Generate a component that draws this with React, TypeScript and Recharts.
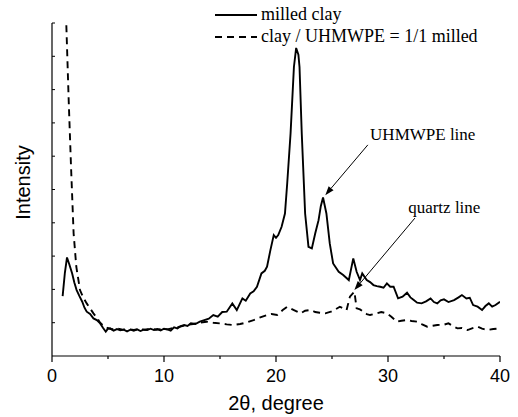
import React from 'react';
import {
  LineChart,
  Line,
  XAxis,
  YAxis,
  Label,
  ReferenceLine,
  ReferenceDot,
} from 'recharts';

// Data (intensity in arbitrary units, 0..100)
const milledClayAngle = [
  0.95, 1.15, 1.34, 1.55, 1.8, 2.0, 2.2, 2.45, 2.7, 2.9, 3.1, 3.4, 3.7, 4.0, 4.3, 4.55, 4.8, 5.0, 5.2,
  5.5, 5.8, 6.1, 6.4, 6.7, 7.0, 7.3, 7.6, 7.9, 8.2, 8.5, 8.8, 9.1, 9.4, 9.7, 10.0, 10.3, 10.6, 10.9,
  11.2, 11.5, 11.8, 12.1, 12.4, 12.8, 13.2, 13.6, 14.0, 14.4, 14.8, 15.2, 15.6, 16.1, 16.5, 17.0,
  17.3, 17.7, 18.0, 18.3, 18.7, 19.0, 19.2, 19.5, 19.8, 20.0, 20.2, 20.5, 20.8, 21.0, 21.3, 21.6,
  21.8, 22.0, 22.1, 22.3, 22.6, 22.9, 23.2, 23.5, 23.8, 24.0, 24.2, 24.5, 24.8, 25.1, 25.6, 26.0,
  26.5, 26.9, 27.2, 27.5, 27.7, 28.1, 28.4, 28.7, 29.0, 29.3, 29.6, 29.9, 30.2, 30.5, 30.9, 31.3,
  31.7, 32.0, 32.3, 32.6, 33.0, 33.4, 33.8, 34.1, 34.4, 34.7, 35.0, 35.4, 35.9, 36.3, 36.6, 37.0,
  37.3, 37.6, 38.0, 38.4, 38.7, 39.0, 39.3, 39.6, 40.0,
];
const milledClayIntensity = [
  18, 25, 29.6, 27.5, 24.8, 22.0, 19.8, 18.0, 16.3, 14.5, 13.3, 12.6, 11.3, 10.8, 9.8, 8.5, 7.3, 8.2,
  8.3, 7.6, 8.1, 7.7, 7.9, 7.4, 7.9, 7.6, 8.0, 7.5, 7.9, 7.8, 8.2, 7.8, 8.1, 7.7, 8.2, 8.0, 7.6, 8.6,
  8.3, 9.0, 9.3, 9.0, 9.8, 9.6, 10.3, 10.8, 11.2, 12.3, 11.8, 13.2, 13.3, 15.8, 13.8, 17.3, 16.6,
  18.8, 19.4, 20.8, 24.8, 25.6, 26.8, 31.8, 36.3, 35.5, 36.3, 38.8, 42.8, 51.8, 66.8, 86.8, 92.5,
  90.5, 86.8, 66.8, 42.8, 32.8, 32.3, 36.8, 40.8, 45, 47.6, 42.8, 33.8, 27.8, 25.3, 24.3, 22.8, 29.3,
  25.3, 22.8, 24.8, 22.8, 22.2, 21.3, 21.0, 20.8, 20.5, 21.8, 20.8, 20.8, 17.3, 17.8, 19.0, 17.6,
  16.8, 16.0, 15.8, 16.4, 17.3, 16.2, 15.8, 16.7, 17.0, 16.2, 16.8, 17.6, 18.3, 17.3, 17.5, 15.3,
  14.8, 13.8, 15.0, 15.8, 14.8, 15.3, 16.3,
];

const blendAngle = [
  1.28, 1.49, 1.7, 1.93, 2.17, 2.5, 2.8, 3.1, 3.4, 3.7, 4.0, 4.3, 4.6, 4.9, 5.3, 5.8, 6.3, 6.8, 7.3,
  7.8, 8.3, 8.8, 9.3, 9.8, 10.3, 10.8, 11.3, 12.0, 12.6, 13.2, 13.8, 14.4, 15.0, 15.6, 16.2, 16.8,
  17.4, 18.0, 18.6, 19.2, 19.6, 20.1, 20.6, 21.0, 21.3, 21.6, 22.2, 22.6, 23.1, 23.5, 23.9, 24.4,
  24.9, 25.3, 25.7, 26.0, 26.3, 26.6, 27.0, 27.2, 27.5, 27.8, 28.1, 28.4, 29.0, 29.4, 29.9, 30.3,
  30.8, 31.2, 31.7, 32.1, 32.6, 33.0, 33.5, 34.0, 34.4, 35.0, 35.4, 35.8, 36.2, 36.6, 37.1, 37.5,
  38.0, 38.4, 38.8, 39.4, 40.0,
];
const blendIntensity = [
  99.3, 76.8, 56.8, 36.8, 26.8, 19.8, 17.5, 15.8, 14.3, 12.8, 11.5, 10.0, 9.0, 8.5, 8.0, 8.3, 7.9,
  8.1, 7.8, 8.1, 7.9, 8.2, 7.9, 8.1, 8.0, 8.4, 8.7, 9.3, 9.6, 10.0, 10.3, 10.0, 9.8, 9.5, 9.3, 9.6,
  10.1, 10.8, 11.6, 12.3, 12.6, 12.3, 13.8, 14.8, 14.3, 13.8, 12.8, 13.6, 13.8, 13.2, 13.0, 12.8,
  13.3, 14.0, 14.8, 14.3, 13.8, 17.8, 19.3, 14.3, 14.0, 13.3, 12.6, 12.3, 12.8, 13.2, 12.8, 11.8,
  10.3, 10.6, 10.8, 10.5, 10.3, 9.6, 8.8, 9.1, 9.3, 9.4, 9.8, 9.0, 8.3, 8.4, 7.8, 8.3, 8.8, 8.2, 7.8,
  8.1, 8.3,
];

const xTicks = [0, 5, 10, 15, 20, 25, 30, 35, 40];
const yTicks = [0, 10, 20, 30, 40, 50, 60, 70, 80, 90, 100];

const legendItems = [
  { label: 'milled clay', dash: undefined },
  { label: 'clay / UHMWPE = 1/1 milled', dash: '7 5' },
];

// annotation: text anchor point, arrow start, arrow tip (data coordinates)
const annotations = [
  { text: 'UHMWPE line', at: { x: 28.4, y: 65 }, from: { x: 28.2, y: 63.4 }, to: { x: 24.4, y: 48.3 } },
  { text: 'quartz line', at: { x: 31.8, y: 43 }, from: { x: 32.4, y: 41.4 }, to: { x: 27.0, y: 19.8 } },
];

const milledClay = milledClayAngle.map((x, i) => ({ x, y: milledClayIntensity[i] }));
const blend = blendAngle.map((x, i) => ({ x, y: blendIntensity[i] }));

const sans = '"Liberation Sans", Arial, sans-serif';
const serif = '"Liberation Serif", "Times New Roman", serif';

const XTick = (props: any) => {
  const { x, y, payload } = props;
  const major = payload.value % 10 === 0;
  return (
    <g>
      <line x1={x} y1={y} x2={x} y2={y + (major ? 6 : 3)} stroke="#000" strokeWidth={1.2} />
      {major && (
        <text x={x} y={y + 26} textAnchor="middle" fontFamily={sans} fontSize={18} fill="#000">
          {payload.value}
        </text>
      )}
    </g>
  );
};

const YTick = (props: any) => {
  const { x, y, payload } = props;
  if (payload.value === 0) return <g />;
  return <line x1={x} y1={y} x2={x + 3} y2={y} stroke="#000" strokeWidth={1} />;
};

const Arrow = (props: any) => {
  const { x1, y1, x2, y2 } = props;
  const a = Math.atan2(y2 - y1, x2 - x1);
  const len = 9;
  const w = 3.2;
  const bx = x2 - len * Math.cos(a);
  const by = y2 - len * Math.sin(a);
  const px = -Math.sin(a) * w;
  const py = Math.cos(a) * w;
  return (
    <g>
      <line x1={x1} y1={y1} x2={bx} y2={by} stroke="#000" strokeWidth={1} />
      <polygon points={`${x2},${y2} ${bx + px},${by + py} ${bx - px},${by - py}`} fill="#000" />
    </g>
  );
};

export default function App() {
  return (
    <div style={{ position: 'absolute', left: 0, top: 0, width: 518, height: 417, background: '#fff' }}>
      <LineChart width={518} height={417} margin={{ top: 23, right: 18, left: 0, bottom: 0 }}>
        <XAxis
          type="number"
          dataKey="x"
          domain={[0, 40]}
          ticks={xTicks}
          height={61}
          tickSize={0}
          tickMargin={0}
          tick={<XTick />}
          axisLine={{ stroke: '#000', strokeWidth: 1.2 }}
          allowDataOverflow
        >
          <Label
            content={(p: any) => {
              const vb = p.viewBox;
              return (
                <text x={vb.x + vb.width / 2} y={vb.y + 54} textAnchor="middle" fontFamily={sans} fontSize={20} fill="#000">
                  2θ, degree
                </text>
              );
            }}
          />
        </XAxis>
        <YAxis
          type="number"
          domain={[0, 100]}
          ticks={yTicks}
          width={52}
          tickSize={0}
          tickMargin={0}
          tick={<YTick />}
          axisLine={{ stroke: '#000', strokeWidth: 1.2 }}
          allowDataOverflow
        >
          <Label
            content={(p: any) => {
              const vb = p.viewBox;
              const cx = 30;
              const cy = vb.y + vb.height / 2 - 7;
              return (
                <text x={cx} y={cy} transform={`rotate(-90 ${cx} ${cy})`} textAnchor="middle" fontFamily={sans} fontSize={20} fill="#000">
                  Intensity
                </text>
              );
            }}
          />
        </YAxis>
        <Line
          data={blend}
          dataKey="y"
          type="linear"
          stroke="#000"
          strokeWidth={1.9}
          strokeDasharray="7 5"
          dot={false}
          isAnimationActive={false}
        />
        <Line
          data={milledClay}
          dataKey="y"
          type="linear"
          stroke="#000"
          strokeWidth={1.9}
          dot={false}
          isAnimationActive={false}
        />
        {annotations.map((a) => (
          <ReferenceLine key={a.text + '-arrow'} segment={[a.from, a.to]} shape={<Arrow />} ifOverflow="visible" />
        ))}
        {annotations.map((a) => (
          <ReferenceDot
            key={a.text}
            x={a.at.x}
            y={a.at.y}
            ifOverflow="visible"
            shape={(p: any) => (
              <text x={p.cx} y={p.cy} fontFamily={serif} fontSize={17} fill="#000">
                {a.text}
              </text>
            )}
          />
        ))}
      </LineChart>
      <div style={{ position: 'absolute', left: 215, top: 3, fontFamily: serif, fontSize: 18, lineHeight: '22px' }}>
        {legendItems.map((it) => (
          <div key={it.label} style={{ display: 'flex', alignItems: 'center' }}>
            <svg width={46} height={22}>
              <line x1={0} y1={12} x2={42} y2={12} stroke="#000" strokeWidth={1.9} strokeDasharray={it.dash} />
            </svg>
            <span>{it.label}</span>
          </div>
        ))}
      </div>
    </div>
  );
}
